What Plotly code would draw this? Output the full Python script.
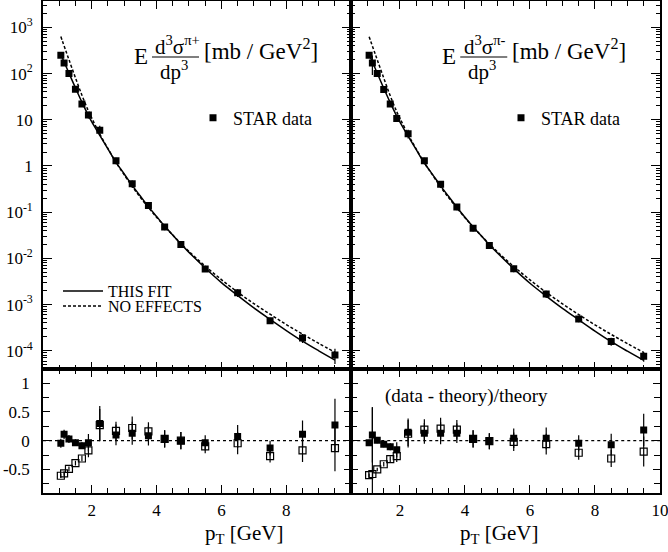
import plotly.graph_objects as go

W, H = 668, 552
FONT = "Liberation Serif"

# ---------------- data ----------------
pt = [1.05, 1.15, 1.3, 1.5, 1.7, 1.9, 2.25, 2.75, 3.25, 3.75, 4.25, 4.75, 5.5, 6.5, 7.5, 8.5, 9.5]

xs_pip = [250, 170, 100, 46, 22, 12.6, 5.9, 1.3, 0.41, 0.14, 0.048, 0.020, 0.0059, 0.0018, 4.5e-4, 1.9e-4, 8.1e-5]
xs_pim = [250, 170, 100, 45, 22, 10.7, 5.0, 1.3, 0.40, 0.13, 0.045, 0.019, 0.0060, 0.0017, 4.9e-4, 1.6e-4, 7.6e-5]
relerr_pip = [8, 8, 7, 6, 6, 15, 25, 16, 18, 16, 15, 15, 13, 19, 15, 22, 36]
relerr_pim = [5, 45, 5, 5, 6, 15, 21, 16, 17, 15, 15, 14, 16, 18, 15, 20, 24]

curve_pt = [1.05, 1.1, 1.2, 1.3, 1.5, 1.7, 1.9, 2.0, 2.25, 2.5, 2.75, 3.0, 3.25, 3.5, 3.75,
            4.0, 4.25, 4.5, 4.75, 5.0, 5.5, 6.0, 6.5, 7.0, 7.5, 8.0, 8.5, 9.0, 9.5]
fit_pip = [257, 214, 148, 102, 49, 24, 12.3, 9.1, 4.6, 2.34, 1.20, 0.68, 0.38, 0.224, 0.132,
           0.081, 0.050, 0.032, 0.0204, 0.0135, 0.0062, 0.0030, 0.00158, 0.00085, 0.00048,
           0.000275, 0.000162, 0.000100, 0.000063]
noeff_pip = [631, 501, 316, 200, 81, 34, 15.5, 11.0, 4.9, 2.40, 1.20, 0.65, 0.36, 0.209, 0.126,
             0.078, 0.049, 0.032, 0.0209, 0.0141, 0.0068, 0.00347, 0.00186, 0.00105, 0.00062,
             0.00037, 0.000229, 0.000145, 0.000093]
fit_pim = [257, 214, 148, 102, 48, 23.5, 12.0, 8.9, 4.4, 2.25, 1.16, 0.66, 0.37, 0.218, 0.128,
           0.078, 0.048, 0.031, 0.0198, 0.0131, 0.0060, 0.0029, 0.00153, 0.00083, 0.00047,
           0.000268, 0.000158, 0.000098, 0.000062]
noeff_pim = [625, 498, 314, 198, 80, 33, 15.0, 10.7, 4.8, 2.33, 1.17, 0.64, 0.35, 0.205, 0.123,
             0.076, 0.048, 0.031, 0.0205, 0.0138, 0.0067, 0.00343, 0.00184, 0.00104, 0.00061,
             0.000365, 0.000226, 0.000143, 0.000092]

# (data - theory)/theory
rfit_pip = [-0.045, 0.11, 0.03, -0.035, -0.087, -0.035, 0.30, 0.10, 0.13, 0.087, 0.03, 0.0, -0.035, 0.07, -0.13, 0.11, 0.27]
rfit_pip_err = [0.08, 0.08, 0.07, 0.06, 0.06, 0.15, 0.30, 0.18, 0.20, 0.17, 0.15, 0.15, 0.13, 0.20, 0.13, 0.24, 0.46]
rno_pip = [-0.61, -0.57, -0.49, -0.39, -0.31, -0.17, 0.27, 0.17, 0.22, 0.16, 0.03, 0.0, -0.10, -0.045, -0.27, -0.17, -0.13]
rno_pip_err = [0.04, 0.04, 0.04, 0.04, 0.05, 0.12, 0.28, 0.16, 0.20, 0.16, 0.15, 0.15, 0.12, 0.19, 0.11, 0.20, 0.40]

rfit_pim = [-0.035, 0.10, 0.006, -0.064, -0.105, -0.16, 0.145, 0.128, 0.128, 0.128, 0.03, -0.01, 0.04, 0.04, -0.046, -0.07, 0.186]
rfit_pim_err = [0.05, 0.48, 0.05, 0.05, 0.06, 0.13, 0.24, 0.18, 0.19, 0.17, 0.15, 0.14, 0.17, 0.19, 0.14, 0.19, 0.28]
rno_pim = [-0.60, -0.58, -0.50, -0.41, -0.32, -0.27, 0.12, 0.19, 0.21, 0.19, 0.03, -0.01, -0.02, -0.06, -0.21, -0.31, -0.19]
rno_pim_err = [0.03, 1.16, 0.03, 0.04, 0.05, 0.10, 0.24, 0.18, 0.19, 0.17, 0.15, 0.14, 0.16, 0.18, 0.12, 0.15, 0.26]

log_tickvals = [1e-4, 1e-3, 1e-2, 1e-1, 1, 10, 1e2, 1e3]
log_ticktext = ["10<sup>-4</sup>", "10<sup>-3</sup>", "10<sup>-2</sup>", "10<sup>-1</sup>",
                "1", "10", "10<sup>2</sup>", "10<sup>3</sup>"]
ratio_tickvals = [-0.5, 0, 0.5, 1]
ratio_ticktext = ["-0.5", "0", "0.5", "1"]
pt_tickvals = [2, 4, 6, 8, 10]


# ---------------- helpers ----------------
def fx(p):
    return p / W


def fy(p):
    return 1 - p / H


def abs_err(vals, pct):
    return [v * e / 100.0 for v, e in zip(vals, pct)]


X_L = [fx(43), fx(351.25)]
X_R = [fx(351.25), fx(660)]
Y_T = [fy(369.3), fy(1)]
Y_B = [fy(493), fy(369.3)]

fig = go.Figure()

sq = dict(symbol="square", size=7, color="black")
osq = dict(symbol="square-open", size=7, color="black", line=dict(width=1.2, color="black"))


def ebar(arr):
    return dict(type="data", array=arr, visible=True, color="black", thickness=1.2, width=0)


# top-left
fig.add_trace(go.Scatter(x=curve_pt, y=fit_pip, mode="lines", line=dict(color="black", width=1.5, shape="spline"),
                         name="THIS FIT", legend="legend", xaxis="x", yaxis="y"))
fig.add_trace(go.Scatter(x=curve_pt, y=noeff_pip, mode="lines",
                         line=dict(color="black", width=1.5, dash="3px,2px", shape="spline"),
                         name="NO EFFECTS", legend="legend2", xaxis="x", yaxis="y"))
fig.add_trace(go.Scatter(x=pt, y=xs_pip, mode="markers", marker=sq, name="STAR data", legend="legend3",
                         error_y=ebar(abs_err(xs_pip, relerr_pip)), xaxis="x", yaxis="y"))
# top-right
fig.add_trace(go.Scatter(x=curve_pt, y=fit_pim, mode="lines", line=dict(color="black", width=1.5, shape="spline"),
                         showlegend=False, xaxis="x2", yaxis="y2"))
fig.add_trace(go.Scatter(x=curve_pt, y=noeff_pim, mode="lines",
                         line=dict(color="black", width=1.5, dash="3px,2px", shape="spline"),
                         showlegend=False, xaxis="x2", yaxis="y2"))
fig.add_trace(go.Scatter(x=pt, y=xs_pim, mode="markers", marker=sq, name="STAR data", legend="legend4",
                         error_y=ebar(abs_err(xs_pim, relerr_pim)), xaxis="x2", yaxis="y2"))
# bottom-left
fig.add_trace(go.Scatter(x=pt, y=rno_pip, mode="markers", marker=osq, showlegend=False,
                         error_y=ebar(rno_pip_err), xaxis="x3", yaxis="y3"))
fig.add_trace(go.Scatter(x=pt, y=rfit_pip, mode="markers", marker=sq, showlegend=False,
                         error_y=ebar(rfit_pip_err), xaxis="x3", yaxis="y3"))
# bottom-right
fig.add_trace(go.Scatter(x=pt, y=rno_pim, mode="markers", marker=osq, showlegend=False,
                         error_y=ebar(rno_pim_err), xaxis="x4", yaxis="y4"))
fig.add_trace(go.Scatter(x=pt, y=rfit_pim, mode="markers", marker=sq, showlegend=False,
                         error_y=ebar(rfit_pim_err), xaxis="x4", yaxis="y4"))

common = dict(showline=True, linecolor="black", linewidth=1.6, mirror="allticks", ticks="inside",
              tickcolor="black", tickwidth=1.2, showgrid=False, zeroline=False, automargin=False,
              tickfont=dict(family=FONT, size=17, color="black"))

xminor = dict(ticks="inside", ticklen=5, tickcolor="black", tickwidth=1.2, dtick=0.5, tick0=0, showgrid=False)
xcommon = dict(common, range=[0.5, 10.002], tickmode="array", tickvals=pt_tickvals, ticklen=8,
               minor=xminor, ticklabelstandoff=1, ticklabeloverflow="allow")

logminor = dict(ticks="inside", ticklen=4, tickcolor="black", tickwidth=1, dtick="D1", showgrid=False)
ycommon_top = dict(common, type="log", range=[-4.4, 3.57], tickmode="array", tickvals=log_tickvals,
                   ticktext=log_ticktext, ticklen=9, minor=logminor, domain=Y_T, ticklabelstandoff=5)
ycommon_bot = dict(common, range=[-0.91, 1.24], tickmode="array", tickvals=ratio_tickvals,
                   ticktext=ratio_ticktext, ticklen=7,
                   minor=dict(ticks="inside", ticklen=6, tickcolor="black", tickwidth=1.2, dtick=0.25, tick0=0,
                              showgrid=False),
                   domain=Y_B, ticklabelstandoff=8)

fig.update_layout(
    xaxis=dict(xcommon, domain=X_L, anchor="y", showticklabels=False),
    xaxis2=dict(xcommon, domain=X_R, anchor="y2", showticklabels=False),
    xaxis3=dict(xcommon, domain=X_L, anchor="y3", ticktext=["2", "4", "6", "8", ""]),
    xaxis4=dict(xcommon, domain=X_R, anchor="y4", ticktext=["2", "4", "6", "8", "10"]),
    yaxis=dict(ycommon_top, anchor="x"),
    yaxis2=dict(ycommon_top, anchor="x2", showticklabels=False),
    yaxis3=dict(ycommon_bot, anchor="x3"),
    yaxis4=dict(ycommon_bot, anchor="x4", showticklabels=False),
)


def leg(x, y, iw=30):
    return dict(x=fx(x), y=fy(y), xanchor="left", yanchor="middle", bgcolor="rgba(0,0,0,0)",
                borderwidth=0, itemwidth=iw, font=dict(family=FONT, size=16, color="black"))


fig.update_layout(
    width=W, height=H, margin=dict(l=0, r=0, t=0, b=0, autoexpand=False),
    paper_bgcolor="white", plot_bgcolor="white",
    font=dict(family=FONT, color="black"),
    legend=leg(58, 291, 40),
    legend2=leg(58, 306, 40),
    legend3=dict(leg(193, 118), font=dict(family=FONT, size=18, color="black")),
    legend4=dict(leg(501, 118), font=dict(family=FONT, size=18, color="black")),
)

# zero reference lines in ratio panels
for xr, yr in (("x3", "y3"), ("x4", "y4")):
    fig.add_shape(type="line", xref=xr + " domain", x0=0, x1=1, yref=yr, y0=0, y1=0,
                  line=dict(color="black", width=1.2, dash="dot"))

# formula labels
annots = []
for dx, num in ((0, "d<sup>3</sup>σ<sup>π+</sup>"), (308.25, "d<sup>3</sup>σ<sup>π-</sup>")):
    annots.append(dict(x=fx(141 + dx), y=fy(56), text="E", font=dict(family=FONT, size=23)))
    annots.append(dict(x=fx(177 + dx), y=fy(45), text=num, font=dict(family=FONT, size=21)))
    annots.append(dict(x=fx(174 + dx), y=fy(70), text="dp<sup>3</sup>", font=dict(family=FONT, size=21)))
    annots.append(dict(x=fx(202 + dx), y=fy(50), text="[mb / GeV<sup>2</sup>]", xanchor="left",
                       font=dict(family=FONT, size=23)))
    fig.add_shape(type="line", xref="paper", yref="paper", x0=fx(152 + dx), x1=fx(199 + dx),
                  y0=fy(57), y1=fy(57), line=dict(color="black", width=1.2))

annots.append(dict(x=fx(383), y=fy(396), text="(data - theory)/theory", xanchor="left",
                   font=dict(family=FONT, size=19)))
annots.append(dict(x=fx(203), y=fy(534), text="p<sub>T</sub> [GeV]", xanchor="left",
                   font=dict(family=FONT, size=21)))
annots.append(dict(x=fx(458), y=fy(534), text="p<sub>T</sub> [GeV]", xanchor="left",
                   font=dict(family=FONT, size=21)))

for a in annots:
    a.setdefault("xanchor", "center")
    a.update(xref="paper", yref="paper", yanchor="middle", showarrow=False)
    a["font"]["color"] = "black"
    fig.add_annotation(**a)

fig.write_html("out.html", config={"displayModeBar": False},
               post_script="document.documentElement.style.overflow='hidden';"
                           "document.body.style.margin='0';document.body.style.overflow='hidden';")
